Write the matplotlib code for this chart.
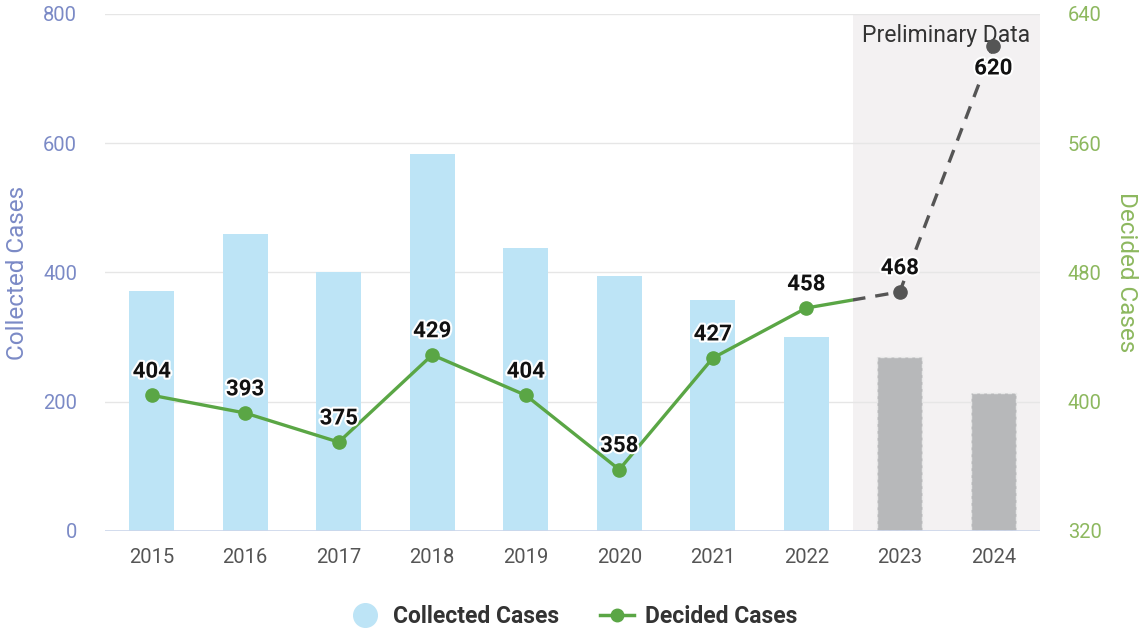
import matplotlib.pyplot as plt
import matplotlib.patheffects as pe
from matplotlib.lines import Line2D
from matplotlib.patches import Rectangle
import numpy as np

plt.rcParams['font.family'] = ['Roboto', 'DejaVu Sans']

years = ['2015', '2016', '2017', '2018', '2019', '2020', '2021', '2022', '2023', '2024']
collected = [371, 460, 401, 583, 438, 395, 357, 300, 269, 214]
decided = [404, 393, 375, 429, 404, 358, 427, 458, 468, 620]
n_final = 8  # years from 2023 on are preliminary

blue_bar = '#bde4f6'
gray_bar = '#b7b8ba'
green = '#5aa645'
dark = '#555555'
left_col = '#7b8ac6'
right_col = '#8db85f'

x = np.arange(len(years))

fig = plt.figure(figsize=(11.45, 6.34), dpi=100)
ax = fig.add_axes([0.0917, 0.1625, 0.8166, 0.8155])
ax2 = ax.twinx()

ax.set_xlim(-0.5, 9.5)
ax.set_ylim(0, 800)
ax2.set_ylim(320, 640)

# preliminary band
ax.axvspan(n_final - 0.5, 9.5, color='#f3f1f2', zorder=0, lw=0)

ax.set_yticks([0, 200, 400, 600, 800])
ax.yaxis.grid(True, color='#e6e6e6', lw=1, zorder=0.5)
ax.set_axisbelow(True)

ax.bar(x[:n_final], collected[:n_final], width=0.48, color=blue_bar, zorder=2)
ax.bar(x[n_final:], collected[n_final:], width=0.48, color=gray_bar, zorder=2,
       edgecolor='#e8e8e8', linestyle=(0, (3, 2)), linewidth=1)

# decided line: solid green up to the band, dashed gray inside it
solid, = ax2.plot(x[:n_final + 1], decided[:n_final + 1], color=green, lw=2.4, zorder=3)
solid.set_clip_path(Rectangle((-0.5, 320), n_final, 400, transform=ax2.transData))
dashed, = ax2.plot(x[n_final - 1:], decided[n_final - 1:], color=dark, lw=2.4,
                   ls=(0, (4, 3)), zorder=3)
dashed.set_clip_path(Rectangle((n_final - 0.5, 320), 10, 400, transform=ax2.transData))
ax2.plot(x[:n_final], decided[:n_final], 'o', color=green, ms=9.5, zorder=4)
ax2.plot(x[n_final:], decided[n_final:], 'o', color=dark, ms=9.5, zorder=4)

for xi, v in zip(x, decided):
    off = -16 if v == max(decided) else 17
    ax2.annotate(str(v), (xi, v), xytext=(0, off), textcoords='offset points',
                 ha='center', va='center', fontsize=16, fontweight='bold', color='#111111',
                 zorder=6, path_effects=[pe.withStroke(linewidth=3, foreground='white')])

ax.text(n_final + 0.5, 784, 'Preliminary Data', ha='center', va='top',
        fontsize=16.5, color='#333333', zorder=5)

for a in (ax, ax2):
    for s in a.spines.values():
        s.set_visible(False)
ax.axhline(0, color='#ccd6eb', lw=1.2, zorder=2.5)

ax.set_xticks(x)
ax.set_xticklabels(years)
ax.tick_params(axis='x', length=0, pad=12, labelsize=14.5, labelcolor='#555555')
ax.tick_params(axis='y', length=0, pad=20, labelsize=14.5, labelcolor=left_col)
ax2.set_yticks([320, 400, 480, 560, 640])
ax2.tick_params(axis='y', length=0, pad=20, labelsize=14.5, labelcolor=right_col)

ax.set_ylabel('Collected Cases', color=left_col, fontsize=17.5, labelpad=10)
ax2.set_ylabel('Decided Cases', color=right_col, fontsize=17.5, rotation=-90, labelpad=26)

handles = [
    Line2D([], [], marker='o', ls='none', color=blue_bar, ms=17),
    Line2D([], [], marker='o', color=green, lw=2.5, ms=9),
]
fig.legend(handles, ['Collected Cases', 'Decided Cases'], loc='center',
           bbox_to_anchor=(0.5, 0.027), ncol=2, frameon=False, handlelength=1.5,
           handletextpad=0.45, columnspacing=1.8,
           prop={'size': 16.5, 'weight': 'bold'}, labelcolor='#333333')

fig.savefig('out.png', dpi=100)
